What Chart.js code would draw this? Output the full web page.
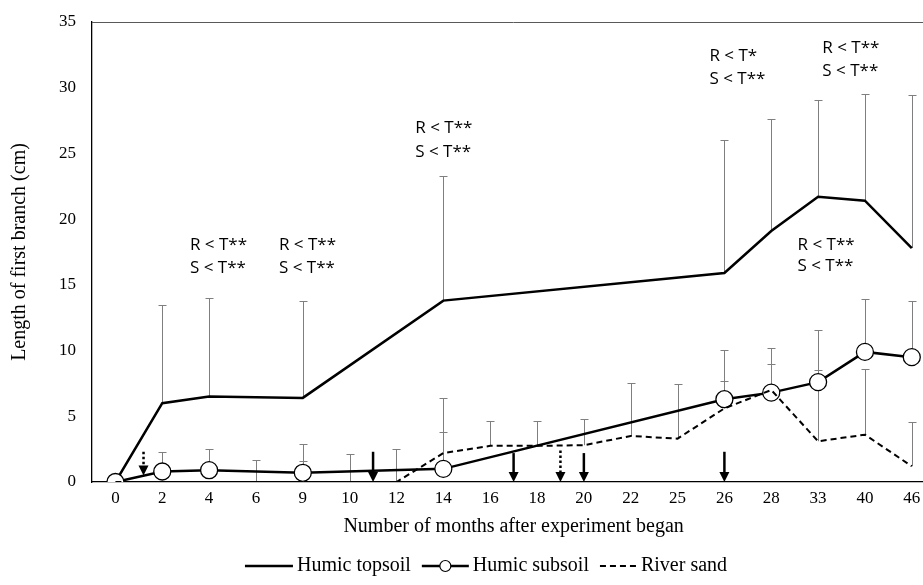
<!DOCTYPE html>
<html>
<head>
<meta charset="utf-8">
<script src="https://cdn.jsdelivr.net/npm/chart.js@4/dist/chart.umd.min.js"></script>
<style>
    body { margin: 0; background: #fff; overflow: hidden; }
    #wrap { width: 945px; height: 585px; }
</style>
</head>
<body>
<div id="wrap"><canvas id="graphBranch" width="945" height="585"></canvas></div>
<script>
// Months (categories)
var months = ['0', '2', '4', '6', '9', '10', '12', '14', '16', '18', '20', '22', '25', '26', '28', '33', '40', '46'];

// Mean length of first branch (cm), null = not measured
var topsoil = [0, 6.0, 6.5, null, 6.4, null, null, 13.8, null, null, null, null, null, 15.9, 19.1, 21.7, 21.4, 17.8];
var subsoil = [0, 0.8, 0.9, null, 0.7, null, null, 1.0, null, null, null, null, null, 6.3, 6.8, 7.6, 9.9, 9.5];
var riverSand = [0, 0, 0, 0, 0, 0, 0, 2.2, 2.75, 2.75, 2.8, 3.5, 3.3, 5.6, 7.0, 3.1, 3.6, 1.2];

// Upper error (SD)
var topsoilErr = [null, 7.5, 7.5, null, 7.4, null, null, 9.5, null, null, null, null, null, 10.1, 8.5, 7.4, 8.1, 11.65];
var subsoilErr = [null, 1.5, 1.6, null, 2.2, null, null, 2.8, null, null, null, null, null, 3.75, 3.4, 4.0, 4.0, 4.3];
var riverSandErr = [null, null, null, 1.7, 1.6, 2.1, 2.5, 4.2, 1.9, 1.9, 2.0, 4.05, 4.15, 2.1, 2.0, 5.4, 5.0, 3.35];

// Significance notes (x = category index, y = value)
var noteText = ['R < T**', 'S < T**', 'R < T**', 'S < T**', 'R < T**', 'S < T**', 'R < T*', 'S < T**', 'R < T**', 'S < T**', 'R < T**', 'S < T**'];
var noteX = [1.59, 1.59, 3.49, 3.49, 6.4, 6.4, 12.68, 12.68, 15.09, 15.09, 14.56, 14.56];
var noteY = [18.0, 16.3, 18.0, 16.3, 26.9, 25.1, 32.4, 30.65, 33.0, 31.28, 18.0, 16.4];

// Downward arrows (x = category index)
var arrowX = [0.6, 5.5, 8.5, 9.5, 10, 13];
var arrowTop = [2.3, 2.3, 2.2, 2.4, 2.2, 2.3];
var arrowTip = [0.5, 0, 0, 0, 0, 0];
var arrowDotted = [true, false, false, true, false, false];

var serif = "'Liberation Serif', 'Times New Roman', serif";
var sans = "'Open Sans', 'Noto Sans', sans-serif";

/**
 * Error bars drawn under the lines
 */
var errorBars = {
    id: 'errorBars',
    beforeDatasetsDraw: function(chart) {
        var ctx = chart.ctx;
        var x = chart.scales.x;
        var y = chart.scales.y;
        var sets = [[topsoil, topsoilErr], [subsoil, subsoilErr], [riverSand, riverSandErr]];
        ctx.save();
        ctx.strokeStyle = '#7f7f7f';
        ctx.lineWidth = 1;
        for (var s = 0; s < sets.length; s++) {
            var mean = sets[s][0];
            var err = sets[s][1];
            for (var i = 0; i < mean.length; i++) {
                if (mean[i] === null || err[i] === null) continue;
                var px = Math.round(x.getPixelForValue(i)) + 0.5;
                var y0 = y.getPixelForValue(mean[i]);
                var y1 = Math.round(y.getPixelForValue(mean[i] + err[i])) + 0.5;
                ctx.beginPath();
                ctx.moveTo(px, y0);
                ctx.lineTo(px, y1);
                ctx.moveTo(px - 4, y1);
                ctx.lineTo(px + 4, y1);
                ctx.stroke();
            }
        }
        ctx.restore();
    }
};

/**
 * Top frame line, arrows, notes and legend
 */
var extras = {
    id: 'extras',
    afterDraw: function(chart) {
        var ctx = chart.ctx;
        var area = chart.chartArea;
        var x = chart.scales.x;
        var y = chart.scales.y;
        ctx.save();

        // top frame
        ctx.strokeStyle = '#595959';
        ctx.lineWidth = 1;
        ctx.beginPath();
        ctx.moveTo(area.left, Math.round(area.top) + 0.5);
        ctx.lineTo(area.right, Math.round(area.top) + 0.5);
        ctx.stroke();

        // arrows
        ctx.strokeStyle = '#000';
        ctx.fillStyle = '#000';
        for (var i = 0; i < arrowX.length; i++) {
            var ax = x.getPixelForValue(arrowX[i]);
            var top = y.getPixelForValue(arrowTop[i]);
            var tip = y.getPixelForValue(arrowTip[i]);
            ctx.lineWidth = 2.5;
            ctx.setLineDash(arrowDotted[i] ? [2.5, 2.5] : []);
            ctx.beginPath();
            ctx.moveTo(ax, top);
            ctx.lineTo(ax, tip - 9);
            ctx.stroke();
            ctx.setLineDash([]);
            ctx.beginPath();
            ctx.moveTo(ax - 5, tip - 10);
            ctx.lineTo(ax + 5, tip - 10);
            ctx.lineTo(ax, tip);
            ctx.closePath();
            ctx.fill();
        }

        // significance notes
        ctx.font = '17px ' + sans;
        ctx.fillStyle = '#000';
        ctx.textBaseline = 'middle';
        ctx.textAlign = 'left';
        for (var n = 0; n < noteText.length; n++) {
            ctx.fillText(noteText[n], x.getPixelForValue(noteX[n]), y.getPixelForValue(noteY[n]));
        }

        // legend
        ctx.font = '20px ' + serif;
        var items = chart.data.datasets;
        var sampleW = [48, 47, 37];
        var total = 0;
        for (var k = 0; k < items.length; k++) {
            total += sampleW[k] + 4 + ctx.measureText(items[k].label).width;
            if (k < items.length - 1) total += 11;
        }
        var lx = 486 - total / 2;
        var ly = 566;
        for (var k = 0; k < items.length; k++) {
            var ds = items[k];
            ctx.strokeStyle = '#000';
            ctx.lineWidth = ds.borderWidth;
            ctx.setLineDash(ds.borderDash || []);
            ctx.beginPath();
            ctx.moveTo(lx, ly);
            ctx.lineTo(lx + sampleW[k], ly);
            ctx.stroke();
            ctx.setLineDash([]);
            if (ds.pointRadius > 0) {
                ctx.beginPath();
                ctx.arc(lx + sampleW[k] / 2, ly, 5.5, 0, Math.PI * 2);
                ctx.fillStyle = '#fff';
                ctx.fill();
                ctx.lineWidth = 1.2;
                ctx.stroke();
            }
            lx += sampleW[k] + 4;
            ctx.fillStyle = '#000';
            ctx.fillText(ds.label, lx, ly);
            lx += ctx.measureText(ds.label).width + 11;
        }
        ctx.restore();
    }
};

var ctxBranch = document.getElementById('graphBranch').getContext('2d');
var chart = new Chart(ctxBranch, {
    type: 'line',
    data: {
        labels: months,
        datasets: [{
            label: 'Humic topsoil',
            data: topsoil,
            borderColor: '#000',
            borderWidth: 2.5,
            pointRadius: 0,
            spanGaps: true,
            order: 2
        }, {
            label: 'Humic subsoil',
            data: subsoil,
            borderColor: '#000',
            borderWidth: 2.5,
            pointRadius: 8.5,
            pointBorderWidth: 1.3,
            pointBackgroundColor: '#fff',
            pointBorderColor: '#000',
            spanGaps: true,
            order: 1
        }, {
            label: 'River sand',
            data: riverSand,
            borderColor: '#000',
            borderWidth: 2,
            borderDash: [6, 4],
            pointRadius: 0,
            order: 0
        }]
    },
    options: {
        responsive: false,
        animation: false,
        layout: { padding: { top: 22, left: 0, right: 0, bottom: 0 } },
        plugins: {
            legend: { display: false },
            tooltip: { enabled: false }
        },
        scales: {
            x: {
                offset: true,
                grid: { display: false, drawTicks: false },
                border: { color: '#000', width: 1.3 },
                ticks: { color: '#000', font: { family: serif, size: 17 }, padding: 6, maxRotation: 0, autoSkip: false },
                title: {
                    display: true,
                    text: 'Number of months after experiment began',
                    color: '#000',
                    font: { family: serif, size: 20 },
                    padding: { top: 0, bottom: 46 }
                },
                afterFit: function(scale) {
                    scale.height = 103;
                    scale.paddingLeft = 0;
                    scale.paddingRight = 0;
                }
            },
            y: {
                min: 0,
                max: 35,
                ticks: { stepSize: 5, color: '#000', font: { family: serif, size: 17 }, padding: 16 },
                grid: { display: false, drawTicks: false },
                border: { color: '#000', width: 1.3 },
                title: {
                    display: true,
                    text: 'Length of first branch (cm)',
                    color: '#000',
                    font: { family: serif, size: 20 },
                    padding: { top: 8, bottom: 0 }
                },
                afterFit: function(scale) {
                    scale.width = 92;
                    scale.paddingTop = 0;
                    scale.paddingBottom = 0;
                }
            }
        }
    },
    plugins: [errorBars, extras]
});
</script>
</body>
</html>
